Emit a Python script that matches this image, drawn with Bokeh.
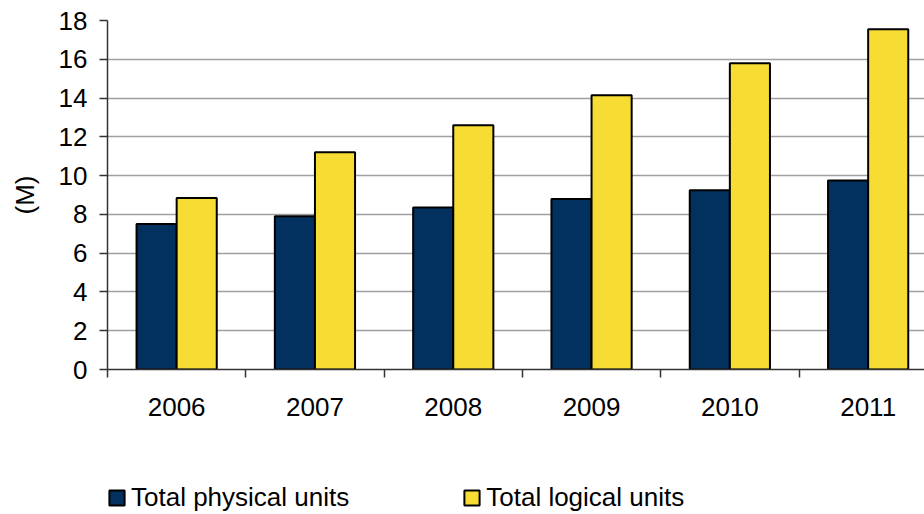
from bokeh.plotting import figure
from bokeh.models import FixedTicker, Range1d, Legend, LegendItem
from bokeh.layouts import column
from bokeh.embed import file_html
from bokeh.resources import INLINE

years = ["2006", "2007", "2008", "2009", "2010", "2011"]
physical = [7.5, 7.9, 8.35, 8.8, 9.25, 9.75]
logical = [8.85, 11.2, 12.6, 14.15, 15.8, 17.55]
y_ticks = [0, 2, 4, 6, 8, 10, 12, 14, 16, 18]
series_names = ["Total physical units", "Total logical units"]

FONT = "Liberation Sans"
NAVY = "#02305F"
YELLOW = "#F7DC34"

n = len(years)
centers = [i + 0.5 for i in range(n)]
bw = 0.29
x_phys = [c - bw / 2 for c in centers]
x_log = [c + bw / 2 for c in centers]

p = figure(width=924, height=460, output_backend="svg", toolbar_location=None,
           x_range=Range1d(0, 817 / 138.3), y_range=Range1d(0, 18),
           min_border_left=107, min_border_right=0, min_border_top=20,
           min_border_bottom=91)
p.outline_line_color = None
p.background_fill_color = "white"
p.border_fill_color = "white"

r1 = p.vbar(x=x_phys, top=physical, width=bw, fill_color=NAVY,
            line_color="black", line_width=2)
r2 = p.vbar(x=x_log, top=logical, width=bw, fill_color=YELLOW,
            line_color="black", line_width=2)

# x axis
p.xaxis.ticker = FixedTicker(ticks=centers, minor_ticks=list(range(n + 1)))
p.xaxis.major_label_overrides = {c: y for c, y in zip(centers, years)}
p.xaxis.major_tick_out = 0
p.xaxis.major_tick_in = 0
p.xaxis.minor_tick_out = 8
p.xaxis.minor_tick_in = 0
p.xaxis.minor_tick_line_color = "#333333"
p.xaxis.minor_tick_line_width = 1.5
p.xaxis.axis_line_color = "#333333"
p.xaxis.axis_line_width = 1.5
p.xaxis.major_label_standoff = 20
p.xaxis.major_label_text_font = FONT
p.xaxis.major_label_text_font_size = "26px"
p.xaxis.major_label_text_color = "black"
p.xgrid.grid_line_color = None

# y axis
p.yaxis.ticker = FixedTicker(ticks=y_ticks, minor_ticks=[])
p.yaxis.major_tick_out = 8
p.yaxis.major_tick_in = 0
p.yaxis.major_tick_line_color = "#333333"
p.yaxis.major_tick_line_width = 1.5
p.yaxis.axis_line_color = "#333333"
p.yaxis.axis_line_width = 1.5
p.yaxis.major_label_standoff = 12
p.yaxis.major_label_text_font = FONT
p.yaxis.major_label_text_font_size = "26px"
p.yaxis.major_label_text_color = "black"
p.yaxis.axis_label = "(M)"
p.yaxis.axis_label_text_font = FONT
p.yaxis.axis_label_text_font_size = "26px"
p.yaxis.axis_label_text_font_style = "normal"
p.yaxis.axis_label_text_color = "black"
p.yaxis.axis_label_standoff = 16
p.ygrid.grid_line_color = "#a0a0a0"
p.ygrid.grid_line_width = 1.5

# legend strip with hidden swatch renderers
lg = figure(width=924, height=54, output_backend="svg", toolbar_location=None,
            x_range=Range1d(0, 817 / 138.3), y_range=Range1d(0, 18),
            min_border_left=0, min_border_right=0, min_border_top=0,
            min_border_bottom=0)
lg.axis.visible = False
lg.grid.visible = False
lg.outline_line_color = None
s1 = lg.vbar(x=x_phys, top=physical, width=bw, fill_color=NAVY,
             line_color="black", line_width=2, visible=False)
s2 = lg.vbar(x=x_log, top=logical, width=bw, fill_color=YELLOW,
             line_color="black", line_width=2, visible=False)

legend = Legend(items=[LegendItem(label=series_names[0], renderers=[s1]),
                       LegendItem(label=series_names[1], renderers=[s2])],
                orientation="horizontal", location=(0, 1),
                glyph_width=19, glyph_height=19, label_standoff=5,
                spacing=113, padding=0, margin=0,
                border_line_color=None, background_fill_alpha=0,
                label_text_font=FONT, label_text_font_size="26px",
                label_text_color="black")
lg.add_layout(legend, "center")

layout = column(p, lg, spacing=0)
open("out.html", "w").write(file_html(layout, INLINE))
